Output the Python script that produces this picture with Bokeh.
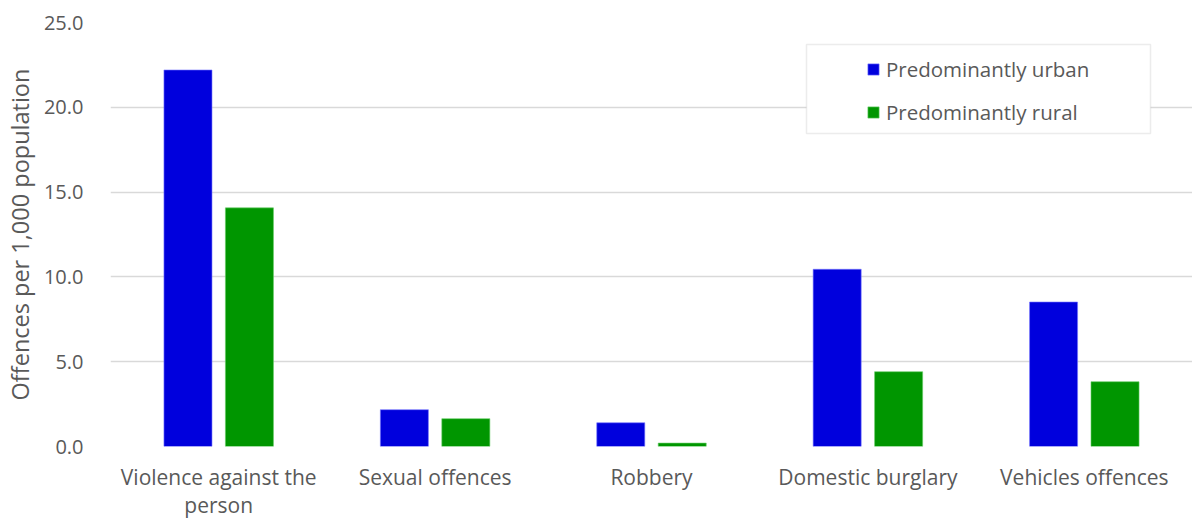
from bokeh.plotting import figure
from bokeh.models import (FactorRange, Range1d, Legend, LegendItem, BoxAnnotation,
                          NumeralTickFormatter, ColumnDataSource, FixedTicker)
from bokeh.transform import dodge
from bokeh.embed import file_html
from bokeh.resources import INLINE

categories = ["Violence against the\nperson", "Sexual offences", "Robbery",
              "Domestic burglary", "Vehicles offences"]
urban = [22.2, 2.17, 1.4, 10.45, 8.52]
rural = [14.07, 1.64, 0.2, 4.41, 3.82]
series = ["Predominantly urban", "Predominantly rural"]
colors = ["#0000DD", "#009600"]
y_ticks = [0, 5, 10, 15, 20, 25]

FONT = "Open Sans"
TXT = "#595959"

src = ColumnDataSource(dict(cat=categories, urban=urban, rural=rural))

p = figure(x_range=FactorRange(*categories), y_range=Range1d(0, 25),
           frame_width=1082, frame_height=424, output_backend="svg", toolbar_location=None,
           min_border_left=102, min_border_right=0, min_border_top=22, min_border_bottom=0)
p.outline_line_color = None
p.background_fill_color = "white"
p.border_fill_color = "white"

r1 = p.vbar(x=dodge("cat", -0.142, range=p.x_range), top="urban", width=0.222, source=src,
            fill_color=colors[0], line_color="#7777FF", line_width=0.6)
r2 = p.vbar(x=dodge("cat", 0.142, range=p.x_range), top="rural", width=0.222, source=src,
            fill_color=colors[1], line_color="#66CC66", line_width=0.6)

p.xgrid.grid_line_color = None
p.ygrid.grid_line_color = "#D9D9D9"
p.ygrid.grid_line_width = 1.5
p.yaxis.ticker = FixedTicker(ticks=y_ticks)
p.yaxis.formatter = NumeralTickFormatter(format="0.0")

for ax in (p.xaxis[0], p.yaxis[0]):
    ax.axis_line_color = None
    ax.major_tick_line_color = None
    ax.minor_tick_line_color = None
    ax.major_label_text_font = FONT
    ax.major_label_text_color = TXT

p.yaxis.major_label_text_font_size = "20px"
p.xaxis.major_label_text_font_size = "21px"
p.xaxis.major_label_text_line_height = 1.0
p.xaxis.major_label_standoff = 10
p.yaxis.major_label_standoff = 21
p.yaxis.axis_label = "Offences per 1,000 population"
p.yaxis.axis_label_text_font = FONT
p.yaxis.axis_label_text_font_size = "23.5px"
p.yaxis.axis_label_text_font_style = "normal"
p.yaxis.axis_label_text_color = TXT
p.yaxis.axis_label_standoff = 5

box = BoxAnnotation(left=696, right=1040, bottom=313, top=402,
                    left_units="screen", right_units="screen",
                    top_units="screen", bottom_units="screen",
                    fill_color="white", fill_alpha=1.0,
                    line_color="#BFBFBF", line_width=1.5, level="overlay")
p.add_layout(box)

legend = Legend(items=[LegendItem(label=series[0], renderers=[r1]),
                       LegendItem(label=series[1], renderers=[r2])],
                location=(756, 320), padding=0, spacing=15,
                glyph_width=14, glyph_height=14, label_height=20,
                label_standoff=6, margin=0,
                label_text_font=FONT, label_text_font_size="20.5px",
                label_text_color=TXT, border_line_color=None,
                background_fill_alpha=0)
p.add_layout(legend)

open("out.html", "w").write(file_html(p, INLINE))
